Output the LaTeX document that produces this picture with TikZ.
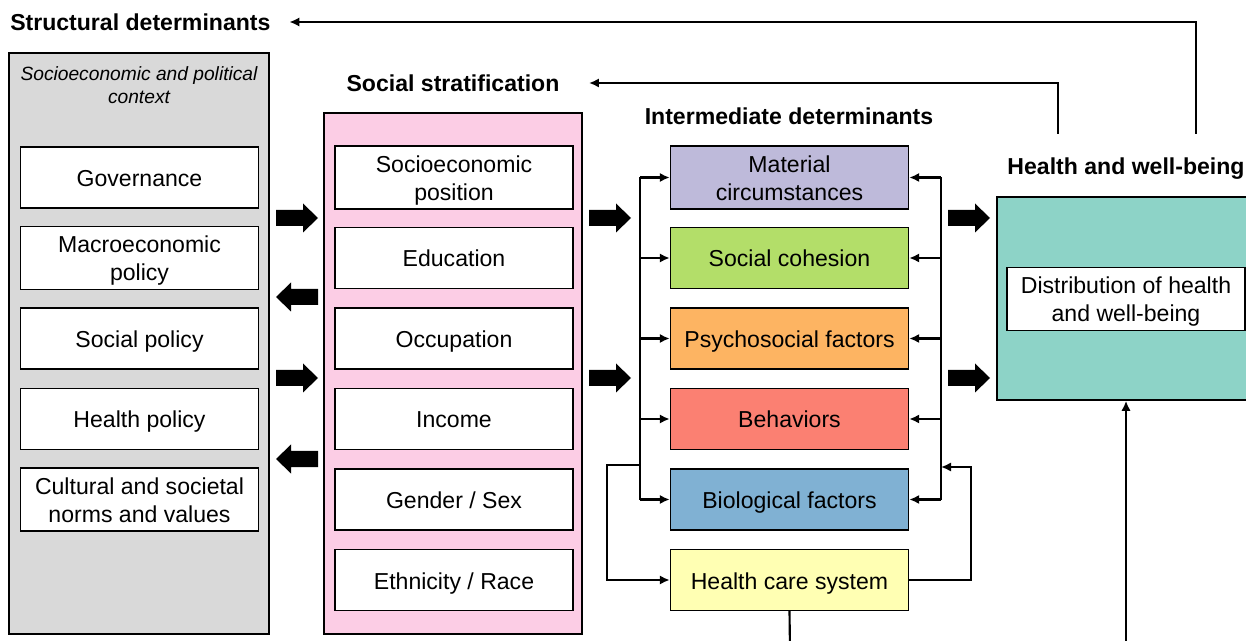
\documentclass[tikz,border=0pt]{standalone}
\usepackage{fontspec}
\setmainfont{Liberation Sans}
\usetikzlibrary{arrows.meta}

% lines of a box, with a fixed top strut so that all boxes sit alike
\newcommand{\boxlines}[1]{\begin{tabular}{@{}c@{}}\rule{0pt}{19.8pt}#1\end{tabular}}

\begin{document}
\begin{tikzpicture}[x=0.75pt,y=0.75pt,yscale=-1,xscale=1,
  box/.style={draw, line width=1.1pt, fill=white, minimum width=178.5pt, minimum height=45.75pt, inner sep=0pt, font=\fontsize{17.3}{21}\selectfont},
  panel/.style={draw, line width=1.2pt, inner sep=0pt},
  head/.style={inner sep=0pt, font=\fontsize{17.3}{21}\selectfont\bfseries},
  wire/.style={line width=1.6pt},
  conn/.style={line width=1.6pt, -{Latex[length=7.5pt,width=7pt]}},
  fatarrow/.pic={\fill (-21,-8) -- (6,-8) -- (6,-14.5) -- (21,0) -- (6,14.5) -- (6,8) -- (-21,8) -- cycle;}]
\useasboundingbox (0,0) rectangle (1246,641);

%Panels
\node [panel, fill={rgb, 255:red, 217; green, 217; blue, 217}, minimum width=195pt, minimum height=435.75pt] (structural) at (139,343.5) {};
\node [panel, fill={rgb, 255:red, 252; green, 205; blue, 229}, minimum width=193.5pt, minimum height=390.75pt] (stratum) at (453,373.5) {};
\node [panel, fill={rgb, 255:red, 141; green, 211; blue, 199}, minimum width=193.5pt, minimum height=152.25pt] (health) at (1126,298.5) {};

% Text Node
\node [head, anchor=west] (struct) at (10,22) {Structural determinants};
\node [head] (strat) at (453,83) {Social stratification};
\node [head] (inter) at (789,116) {Intermediate determinants};
\node [head] (hwb) at (1126,169) {Health and well-being};
\node [align=center, inner sep=0pt, font=\fontsize{14.4}{17.3}\selectfont\itshape] (context) at (139,85) {Socioeconomic and political\\context};

%Structural column
\node [box] (gov) at (139.5,177.5) {\boxlines{Governance}};
\node [box] (macro) at (139.5,258) {\boxlines{Macroeconomic\\policy}};
\node [box] (social) at (139.5,338.5) {\boxlines{Social policy}};
\node [box] (hpol) at (139.5,419) {\boxlines{Health policy}};
\node [box] (norms) at (139.5,499.5) {\boxlines{Cultural and societal\\norms and values}};

%Stratification column
\node [box] (sep) at (454,177.5) {\boxlines{Socioeconomic\\position}};
\node [box] (edu) at (454,258) {\boxlines{Education}};
\node [box] (occ) at (454,338.5) {\boxlines{Occupation}};
\node [box] (inc) at (454,419) {\boxlines{Income}};
\node [box] (gender) at (454,499.5) {\boxlines{Gender / Sex}};
\node [box] (race) at (454,580) {\boxlines{Ethnicity / Race}};

%Intermediate column
\node [box, fill={rgb, 255:red, 190; green, 186; blue, 218}] (mat) at (789.5,177.5) {\boxlines{Material\\circumstances}};
\node [box, fill={rgb, 255:red, 179; green, 222; blue, 105}] (coh) at (789.5,258) {\boxlines{Social cohesion}};
\node [box, fill={rgb, 255:red, 253; green, 180; blue, 98}] (psy) at (789.5,338.5) {\boxlines{Psychosocial factors}};
\node [box, fill={rgb, 255:red, 251; green, 128; blue, 114}] (beh) at (789.5,419) {\boxlines{Behaviors}};
\node [box, fill={rgb, 255:red, 128; green, 177; blue, 211}] (bio) at (789.5,499.5) {\boxlines{Biological factors}};
\node [box, fill={rgb, 255:red, 255; green, 255; blue, 179}] (hcs) at (789.5,580) {\boxlines{Health care system}};

\node [box] (dist) at (1126,299) {\boxlines{Distribution of health\\and well-being}};

%Block arrows
\pic at (297,218) {fatarrow};
\pic [rotate=180] at (297,297) {fatarrow};
\pic at (297,378) {fatarrow};
\pic [rotate=180] at (297,459) {fatarrow};
\pic at (610,218) {fatarrow};
\pic at (610,378) {fatarrow};
\pic at (969,218) {fatarrow};
\pic at (969,378) {fatarrow};

%Buses
\coordinate (lbus) at (640,0);
\coordinate (rbus) at (941,0);
\draw [wire] (lbus |- mat.west) -- (lbus |- bio.west);
\draw [conn] (lbus |- mat.west) -- (mat.west);
\draw [conn] (lbus |- coh.west) -- (coh.west);
\draw [conn] (lbus |- psy.west) -- (psy.west);
\draw [conn] (lbus |- beh.west) -- (beh.west);
\draw [conn] (lbus |- bio.west) -- (bio.west);
\draw [wire] (rbus |- mat.east) -- (rbus |- bio.east);
\draw [conn] (rbus |- mat.east) -- (mat.east);
\draw [conn] (rbus |- coh.east) -- (coh.east);
\draw [conn] (rbus |- psy.east) -- (psy.east);
\draw [conn] (rbus |- beh.east) -- (beh.east);
\draw [conn] (rbus |- bio.east) -- (bio.east);

%Health care loops
\coordinate (lloop) at (607,465);
\coordinate (rloop) at (971,467);
\draw [conn] (lbus |- lloop) -- (lloop) -- (lloop |- hcs.west) -- (hcs.west);
\draw [conn] (hcs.east) -- (hcs.east -| rloop) -- (rloop) -- (rbus |- rloop);

%Bottom links
\coordinate (hcsout) at (790,650);
\coordinate (hwbin) at (1126,650);
\draw [wire] (hcs.south) -- (hcsout);
\draw [conn] (hwbin) -- (health.south);

%Feedback
\coordinate (fbone) at (1058,134);
\coordinate (fbtwo) at (1196,134);
\draw [conn, shorten >=22pt] (fbone) -- (fbone |- strat.east) -- (strat.east);
\draw [conn, shorten >=14pt] (fbtwo) -- (fbtwo |- struct.east) -- (struct.east);

\end{tikzpicture}
\end{document}
